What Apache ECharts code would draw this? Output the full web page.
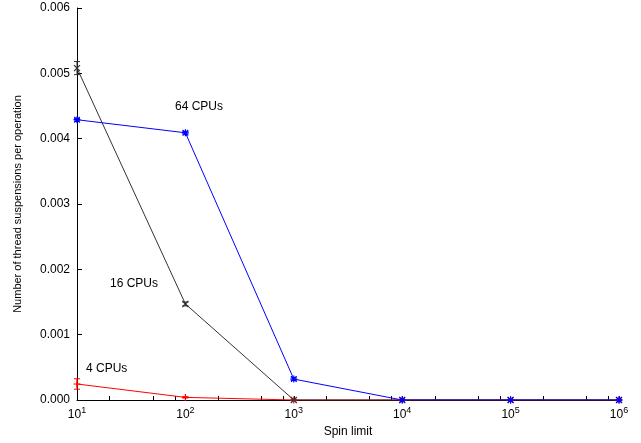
<!DOCTYPE html>
<html><head><meta charset="utf-8">
<script src="https://cdn.jsdelivr.net/npm/echarts@6/dist/echarts.min.js"></script>
<style>html,body{margin:0;padding:0;background:#fff}#c{width:641px;height:443px}</style>
</head><body><div id="c"></div>
<script>
var spinLimits = [10, 100, 1000, 10000, 100000, 1000000];
var cpu64 = [0.00429, 0.00409, 0.00032, 0, 0, 0];
var cpu16 = [0.00508, 0.00147, 0, 0, 0, 0];
var cpu4 = [0.000245, 0.00004, 0, 0, 0, 0];
var err64 = [0.00002, 0.00002, 0.00002, 0.00001, 0.00001, 0.00001];
var err16 = [0.0001, 0.00003, 0.00001, 0, 0, 0];
var err4 = [0.00008, 0.00001, 0, 0, 0, 0];
var minorTickValues = [20, 50, 80, 200, 500, 800, 2000, 5000, 8000, 20000, 50000, 80000, 200000, 500000, 800000];
var yTicks = ['0.000', '0.001', '0.002', '0.003', '0.004', '0.005', '0.006'];
var seriesLabels = ['4 CPUs', '16 CPUs', '64 CPUs'];

var FONT = 'Liberation Sans, Arial, sans-serif';
function pairs(v) { return spinLimits.map(function (x, i) { return [x, v[i]]; }); }
function errData(v, e) { return spinLimits.map(function (x, i) { return [x, v[i] - e[i], v[i] + e[i]]; }); }
function errSeries(v, e, color) {
  return {
    type: 'custom', data: errData(v, e), z: 3, silent: true,
    renderItem: function (params, api) {
      var lo = api.coord([api.value(0), api.value(1)]);
      var hi = api.coord([api.value(0), api.value(2)]);
      var w = 3;
      return { type: 'group', children: [
        { type: 'line', shape: { x1: lo[0], y1: lo[1], x2: hi[0], y2: hi[1] }, style: { stroke: color, lineWidth: 1 } },
        { type: 'line', shape: { x1: lo[0] - w, y1: lo[1], x2: lo[0] + w, y2: lo[1] }, style: { stroke: color, lineWidth: 1 } },
        { type: 'line', shape: { x1: hi[0] - w, y1: hi[1], x2: hi[0] + w, y2: hi[1] }, style: { stroke: color, lineWidth: 1 } }
      ] };
    }
  };
}
var SYM_PLUS = 'path://M0,5L10,5M5,0L5,10';
var SYM_X = 'path://M0,0L10,10M10,0L0,10';
var SYM_STAR = 'path://M0,5L10,5M5,0L5,10M1,1L9,9M9,1L1,9';
function lineSeries(v, color, sym, size) {
  return {
    type: 'line', data: pairs(v), symbol: sym, symbolSize: size, showAllSymbol: true,
    lineStyle: { color: color, width: 1 },
    itemStyle: { color: 'rgba(0,0,0,0)', borderColor: color, borderWidth: 1.2 },
    emphasis: { disabled: true }, z: 4
  };
}
var chart = echarts.init(document.getElementById('c'));
chart.setOption({
  animation: false,
  grid: { left: 77, right: 22, top: 8, bottom: 43 },
  xAxis: {
    type: 'log', logBase: 10, min: 10, max: 1000000,
    name: 'Spin limit', nameLocation: 'middle', nameGap: 25,
    nameTextStyle: { fontFamily: FONT, fontSize: 12, color: '#000' },
    axisLine: { onZero: false, lineStyle: { color: '#000', width: 1 } },
    axisTick: { show: true, inside: true, length: 4, lineStyle: { color: '#000' }, customValues: spinLimits.concat(minorTickValues) },
    minorTick: { show: false },
    splitLine: { show: false },
    axisLabel: {
      margin: 6, color: '#000',
      formatter: function (val) { var e = Math.round(Math.log10(val)); return '{b|10}{s|' + e + '}'; },
      rich: {
        b: { fontFamily: FONT, fontSize: 12, color: '#000' },
        s: { fontFamily: FONT, fontSize: 9, color: '#000', padding: [0, 0, 8, 0] }
      }
    }
  },
  yAxis: {
    type: 'value', min: 0, max: 0.006, interval: 0.001,
    name: 'Number of thread suspensions per operation', nameLocation: 'middle', nameGap: 54,
    nameTextStyle: { fontFamily: FONT, fontSize: 11, color: '#000' },
    axisLine: { show: true, lineStyle: { color: '#000', width: 1 } },
    axisTick: { show: true, inside: true, length: 5, lineStyle: { color: '#000' } },
    splitLine: { show: false },
    axisLabel: {
      fontFamily: FONT, fontSize: 12, color: '#000', margin: 7,
      formatter: function (val) { return yTicks[Math.round(val * 1000)]; }
    }
  },
  series: [
    errSeries(cpu4, err4, '#ff0000'),
    lineSeries(cpu4, '#ff0000', SYM_PLUS, 7),
    errSeries(cpu16, err16, '#333333'),
    lineSeries(cpu16, '#333333', SYM_X, 6),
    errSeries(cpu64, err64, '#0000ff'),
    lineSeries(cpu64, '#0000ff', SYM_STAR, 7)
  ],
  graphic: [
    { type: 'text', left: 86, top: 363, style: { text: seriesLabels[0], fontFamily: FONT, fontSize: 12, fill: '#000' } },
    { type: 'text', left: 110, top: 278, style: { text: seriesLabels[1], fontFamily: FONT, fontSize: 12, fill: '#000' } },
    { type: 'text', left: 175, top: 101, style: { text: seriesLabels[2], fontFamily: FONT, fontSize: 12, fill: '#000' } }
  ]
});
</script></body></html>
